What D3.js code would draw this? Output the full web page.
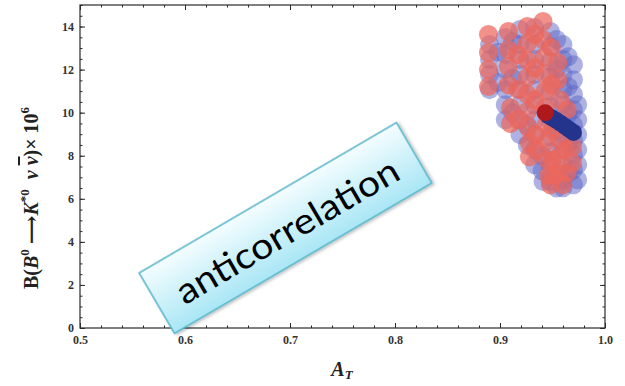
<!DOCTYPE html>
<html>
<head>
<meta charset="utf-8">
<script src="https://cdn.jsdelivr.net/npm/d3@7"></script>
<style>
  html, body { margin: 0; padding: 0; background: #fff; }
  svg { display: block; }
</style>
</head>
<body>
<svg id="chart" width="625" height="386"></svg>
<script>
// Axis tick values
const xTicks = [0.5, 0.6, 0.7, 0.8, 0.9, 1.0];
const yTicks = [0, 2, 4, 6, 8, 10, 12, 14];

// Parameter scan, wide range: [A_T, BR x 10^6]
const bluePoints = [
  [0.890, 13.16], [0.890, 12.47], [0.890, 11.77], [0.890, 11.07],
  [0.898, 12.80], [0.898, 11.40],
  [0.905, 13.49], [0.905, 12.70], [0.905, 12.00], [0.905, 11.07], [0.905, 10.37], [0.905, 9.67],
  [0.912, 13.30], [0.912, 11.60], [0.912, 10.00],
  [0.919, 13.86], [0.919, 13.16], [0.919, 12.47], [0.919, 11.77], [0.919, 11.07], [0.919, 10.37], [0.919, 9.67], [0.919, 8.98],
  [0.926, 9.40], [0.926, 8.50],
  [0.933, 13.95], [0.933, 13.16], [0.933, 12.47], [0.933, 11.77], [0.933, 11.07], [0.933, 10.37], [0.933, 9.67], [0.933, 8.98], [0.933, 8.28], [0.933, 7.58],
  [0.940, 8.00], [0.940, 7.30], [0.941, 6.80],
  [0.948, 13.77], [0.948, 13.07], [0.948, 12.37], [0.948, 11.67], [0.948, 10.98], [0.948, 10.28], [0.948, 9.58], [0.948, 8.88], [0.948, 8.19], [0.948, 7.49], [0.948, 6.79],
  [0.954, 13.40], [0.954, 12.00], [0.954, 9.20], [0.954, 6.50],
  [0.960, 13.16], [0.960, 12.47], [0.960, 11.77], [0.960, 11.07], [0.960, 10.37], [0.960, 9.67], [0.960, 8.98], [0.960, 8.28], [0.960, 7.58], [0.960, 6.88], [0.960, 6.51],
  [0.965, 12.60], [0.965, 11.20], [0.965, 9.90], [0.965, 8.60], [0.965, 7.20],
  [0.970, 12.23], [0.970, 11.53], [0.970, 10.84], [0.970, 10.14], [0.970, 9.44], [0.970, 8.74], [0.970, 8.05], [0.970, 7.35], [0.970, 6.65],
  [0.974, 10.37], [0.974, 9.67], [0.974, 8.98], [0.974, 8.28], [0.974, 7.58], [0.974, 6.88]
];

// Parameter scan, restricted range: [A_T, BR x 10^6]
const redPoints = [
  [0.889, 13.63], [0.889, 12.79], [0.889, 12.00], [0.889, 11.21],
  [0.908, 13.77], [0.908, 12.93], [0.908, 12.14], [0.908, 11.30], [0.910, 10.23], [0.910, 9.49],
  [0.917, 12.70], [0.917, 11.07], [0.917, 9.67],
  [0.926, 14.00], [0.926, 13.21], [0.926, 12.42], [0.926, 11.63], [0.926, 10.84], [0.926, 10.05], [0.927, 9.30], [0.928, 8.60], [0.928, 7.95],
  [0.933, 13.63], [0.933, 12.09], [0.933, 10.60], [0.934, 8.98], [0.935, 8.28],
  [0.941, 14.23], [0.941, 13.40], [0.942, 12.60], [0.942, 11.81], [0.943, 11.02], [0.943, 10.23], [0.944, 9.44], [0.944, 8.65], [0.945, 7.81], [0.946, 7.07], [0.948, 6.65],
  [0.949, 13.02], [0.949, 11.30], [0.950, 9.21], [0.950, 7.81], [0.951, 7.12],
  [0.955, 12.33], [0.955, 11.53], [0.957, 10.60], [0.957, 8.74], [0.956, 7.95], [0.956, 7.16],
  [0.962, 8.28], [0.960, 6.65],
  [0.964, 10.14], [0.969, 8.42], [0.969, 7.67], [0.964, 7.21]
];

// Standard-model band and central value
const smBand = [
  [0.946, 9.86], [0.950, 9.74], [0.954, 9.62], [0.958, 9.50],
  [0.962, 9.36], [0.966, 9.22], [0.970, 9.08]
];
const smCentral = [[0.943, 10.00]];

const calloutText = "anticorrelation";

const svg = d3.select("#chart");
const plot = { left: 80, right: 605, top: 5, bottom: 328 };

const x = d3.scaleLinear().domain([0.5, 1.0]).range([plot.left, plot.right]);
const y = d3.scaleLinear().domain([0, 15]).range([plot.bottom, plot.top]);

const R = 9.5;
const RS = 8.5;

// scan points
const gMarks = svg.append("g");
gMarks.selectAll("circle.blue").data(bluePoints).join("circle")
  .attr("class", "blue")
  .attr("cx", d => x(d[0])).attr("cy", d => y(d[1])).attr("r", R)
  .attr("fill", "#5c66c6").attr("fill-opacity", 0.5);

gMarks.selectAll("circle.red").data(redPoints).join("circle")
  .attr("class", "red")
  .attr("cx", d => x(d[0])).attr("cy", d => y(d[1])).attr("r", R)
  .attr("fill", "#ec675c").attr("fill-opacity", 0.72);

gMarks.selectAll("circle.sm").data(smBand).join("circle")
  .attr("class", "sm")
  .attr("cx", d => x(d[0])).attr("cy", d => y(d[1])).attr("r", RS)
  .attr("fill", "#24348c");

gMarks.selectAll("circle.central").data(smCentral).join("circle")
  .attr("class", "central")
  .attr("cx", d => x(d[0])).attr("cy", d => y(d[1])).attr("r", RS)
  .attr("fill", "#b0191c");

// frame
svg.append("rect")
  .attr("x", plot.left).attr("y", plot.top)
  .attr("width", plot.right - plot.left).attr("height", plot.bottom - plot.top)
  .attr("fill", "none").attr("stroke", "#2a2a2a").attr("stroke-width", 1.2);

const tickFont = "'Liberation Serif', 'Times New Roman', serif";
const xMinor = d3.range(0.5, 1.0001, 0.02);
const yMinor = d3.range(0, 15.0001, 0.5);

function styleAxis(g) {
  g.select(".domain").remove();
  g.selectAll(".tick line").attr("stroke", "#2a2a2a").attr("stroke-width", 1);
  g.selectAll("text").attr("font-family", tickFont).attr("font-weight", "bold")
    .attr("font-size", 12).attr("fill", "#333");
}

// bottom axis
svg.append("g").attr("transform", `translate(0,${plot.bottom})`)
  .call(d3.axisBottom(x).tickValues(xMinor).tickSize(-2.5).tickFormat(""))
  .call(styleAxis);
svg.append("g").attr("transform", `translate(0,${plot.bottom})`)
  .call(d3.axisBottom(x).tickValues(xTicks).tickSize(-5).tickPadding(7).tickFormat(d3.format(".1f")))
  .call(styleAxis);
// top axis
svg.append("g").attr("transform", `translate(0,${plot.top})`)
  .call(d3.axisTop(x).tickValues(xMinor).tickSize(-2.5).tickFormat(""))
  .call(styleAxis);
svg.append("g").attr("transform", `translate(0,${plot.top})`)
  .call(d3.axisTop(x).tickValues(xTicks).tickSize(-5).tickFormat(""))
  .call(styleAxis);
// left axis
svg.append("g").attr("transform", `translate(${plot.left},0)`)
  .call(d3.axisLeft(y).tickValues(yMinor).tickSize(-2.5).tickFormat(""))
  .call(styleAxis);
svg.append("g").attr("transform", `translate(${plot.left},0)`)
  .call(d3.axisLeft(y).tickValues(yTicks).tickSize(-5).tickPadding(6).tickFormat(d3.format("d")))
  .call(styleAxis);
// right axis
svg.append("g").attr("transform", `translate(${plot.right},0)`)
  .call(d3.axisRight(y).tickValues(yMinor).tickSize(-2.5).tickFormat(""))
  .call(styleAxis);
svg.append("g").attr("transform", `translate(${plot.right},0)`)
  .call(d3.axisRight(y).tickValues(yTicks).tickSize(-5).tickFormat(""))
  .call(styleAxis);

// axis titles
const labelFont = "'Liberation Serif', 'DejaVu Serif', serif";
const xt = svg.append("text")
  .attr("x", 342).attr("y", 376)
  .attr("text-anchor", "middle")
  .attr("font-family", labelFont).attr("font-weight", "bold").attr("font-size", 20)
  .attr("fill", "#222");
xt.append("tspan").attr("font-style", "italic").text("A");
xt.append("tspan").attr("font-style", "italic").attr("font-size", 13).attr("dy", 3).text("T");

const yt = svg.append("text")
  .attr("transform", "translate(38,198) rotate(-90)")
  .attr("text-anchor", "middle")
  .attr("font-family", labelFont).attr("font-weight", "bold").attr("font-size", 20)
  .attr("fill", "#222");
yt.append("tspan").text("B(");
yt.append("tspan").attr("font-style", "italic").text("B");
yt.append("tspan").attr("font-size", 13).attr("dy", -9).text("0");
yt.append("tspan").attr("dy", 9).text(" \u27F6");
yt.append("tspan").attr("font-style", "italic").text("K");
yt.append("tspan").attr("font-size", 13).attr("dy", -9).text("*0");
yt.append("tspan").attr("dy", 9).attr("font-style", "italic").text("\u2002\u03BD ");
yt.append("tspan").attr("font-style", "italic").attr("text-decoration", "overline").text("\u03BD");
yt.append("tspan").text(")\u00D7 10");
yt.append("tspan").attr("font-size", 13).attr("dy", -9).text("6");

// callout box
const defs = svg.append("defs");
const grad = defs.append("linearGradient").attr("id", "calloutFill")
  .attr("x1", 0).attr("y1", 0).attr("x2", 0).attr("y2", 1);
grad.append("stop").attr("offset", "0%").attr("stop-color", "#f4fdff");
grad.append("stop").attr("offset", "100%").attr("stop-color", "#a9e6f5");
const shadow = defs.append("filter").attr("id", "calloutShadow")
  .attr("x", "-10%").attr("y", "-30%").attr("width", "120%").attr("height", "160%");
shadow.append("feDropShadow").attr("dx", 1.5).attr("dy", 2).attr("stdDeviation", 1.5)
  .attr("flood-color", "#000").attr("flood-opacity", 0.25);

const callout = svg.append("g").attr("transform", "translate(285.5,228) rotate(-30.3)");
callout.append("rect")
  .attr("x", -149).attr("y", -35).attr("width", 298).attr("height", 70)
  .attr("fill", "url(#calloutFill)").attr("stroke", "#4fb4c9").attr("stroke-width", 1.5)
  .attr("filter", "url(#calloutShadow)");
callout.append("text")
  .attr("x", 0).attr("y", 2)
  .attr("text-anchor", "middle").attr("dominant-baseline", "central")
  .attr("font-family", "Lato, 'Open Sans', sans-serif").attr("font-size", 36)
  .attr("textLength", 252).attr("lengthAdjust", "spacingAndGlyphs")
  .attr("fill", "#000")
  .text(calloutText);
</script>
</body>
</html>
